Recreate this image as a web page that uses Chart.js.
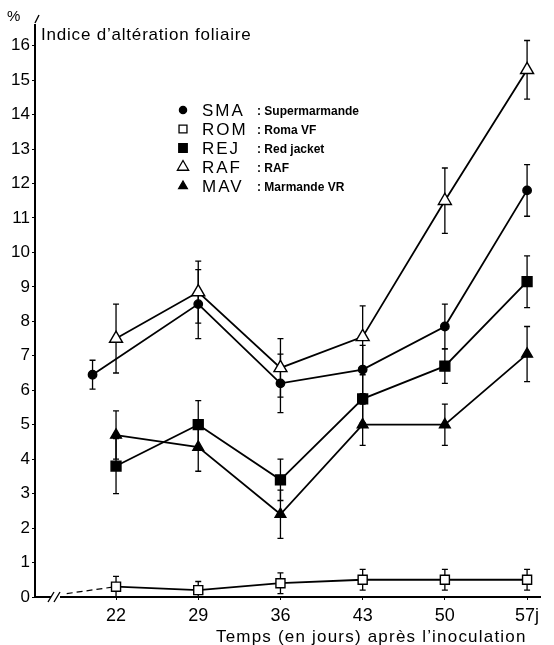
<!DOCTYPE html>
<html>
<head>
<meta charset="utf-8">
<script src="https://cdn.jsdelivr.net/npm/chart.js@4/dist/chart.umd.min.js"></script>
<style>
  html, body { margin: 0; padding: 0; background: #fff; }
</style>
</head>
<body>
<canvas id="myChart" width="554" height="645"></canvas>
<script>
// days after inoculation
const days = [22, 29, 36, 43, 50, 57];
const yTicks = [0, 1, 2, 3, 4, 5, 6, 7, 8, 9, 10, 11, 12, 13, 14, 15, 16];

const smaDays = [20, 29, 36, 43, 50, 57];
const smaValues = [6.45, 8.5, 6.2, 6.6, 7.85, 11.8];
const smaErr = [0.42, 1.0, 0.85, 0.7, 0.65, 0.75];

const romDays = [17.8, 22, 29, 36, 43, 50, 57];
const romValues = [0.1, 0.3, 0.2, 0.4, 0.5, 0.5, 0.5];
const romErr = [0, 0.3, 0.25, 0.3, 0.3, 0.3, 0.3];

const rejValues = [3.8, 5.0, 3.4, 5.75, 6.7, 9.15];
const rejErr = [0.8, 0.7, 0.6, 0.7, 0.5, 0.75];

const rafValues = [7.5, 8.85, 6.65, 7.55, 11.5, 15.3];
const rafErr = [1.0, 0.9, 0.85, 0.9, 0.95, 0.85];

const mavValues = [4.7, 4.35, 2.4, 5.0, 5.0, 7.05];
const mavErr = [0.7, 0.7, 0.7, 0.6, 0.6, 0.8];

const codes = ['SMA', 'ROM', 'REJ', 'RAF', 'MAV'];
const names = ['Supermarmande', 'Roma VF', 'Red jacket', 'RAF', 'Marmande VR'];

const yTitle = 'Indice d\u2019altération foliaire';
const xTitle = 'Temps (en jours) après l\u2019inoculation';

const toPoints = (xs, ys) => xs.map((x, i) => ({ x: x, y: ys[i] }));

const font = '"Liberation Sans", Arial, sans-serif';

const markers = [
  { style: 'circle', fill: '#000', radius: 4.2, legendRadius: 3.6 },
  { style: 'rect', fill: '#fff', radius: 6.4, legendRadius: 5.6 },
  { style: 'rect', fill: '#000', radius: 7, legendRadius: 6 },
  { style: 'triangle', fill: '#fff', radius: 7.5, legendRadius: 6.5 },
  { style: 'triangle', fill: '#000', radius: 6.2, legendRadius: 5 },
];

const makeSet = (i, data, err) => ({
  label: codes[i],
  data: data,
  err: err,
  borderColor: '#000',
  borderWidth: 1.8,
  backgroundColor: markers[i].fill,
  pointStyle: markers[i].style,
  pointRadius: markers[i].radius,
  pointBorderWidth: 1.4,
  pointBorderColor: '#000',
  pointBackgroundColor: markers[i].fill,
  tension: 0,
});

const romSet = makeSet(1, toPoints(romDays, romValues), romErr);
romSet.pointRadius = romValues.map((v, i) => (i === 0 ? 0 : markers[1].radius));
romSet.segment = {
  borderDash: (c) => (c.p0DataIndex === 0 ? [6, 4] : undefined),
  borderWidth: (c) => (c.p0DataIndex === 0 ? 1.2 : undefined),
};

// error bars drawn through the chart scales
const errorBars = {
  id: 'errorBars',
  beforeDatasetsDraw(chart) {
    const ctx = chart.ctx;
    const xs = chart.scales.x, ys = chart.scales.y;
    ctx.save();
    ctx.strokeStyle = '#000';
    ctx.lineWidth = 1.3;
    chart.data.datasets.forEach((ds) => {
      ds.data.forEach((p, i) => {
        const e = ds.err[i];
        if (!e) return;
        const x = xs.getPixelForValue(p.x);
        const y1 = ys.getPixelForValue(Math.max(0, p.y - e));
        const y2 = ys.getPixelForValue(p.y + e);
        ctx.beginPath();
        ctx.moveTo(x, y1); ctx.lineTo(x, y2);
        ctx.moveTo(x - 3, y1); ctx.lineTo(x + 3, y1);
        ctx.moveTo(x - 3, y2); ctx.lineTo(x + 3, y2);
        ctx.stroke();
      });
    });
    ctx.restore();
  },
};

// titles, legend and axis break
const decorations = {
  id: 'decorations',
  afterDraw(chart) {
    const ctx = chart.ctx;
    const area = chart.chartArea;
    ctx.save();
    ctx.fillStyle = '#000';
    ctx.strokeStyle = '#000';
    ctx.textBaseline = 'middle';

    ctx.font = '15px ' + font;
    ctx.fillText('%', 7, 17);
    ctx.font = '17px ' + font;
    ctx.letterSpacing = '0.8px';
    ctx.fillText(yTitle, 41, 35);
    ctx.letterSpacing = '1.2px';
    ctx.fillText(xTitle, 216, 637);
    ctx.letterSpacing = '0px';

    // y axis top arrow
    ctx.lineWidth = 1.4;
    ctx.beginPath();
    ctx.moveTo(area.left, area.top - 2);
    ctx.lineTo(area.left + 4, area.top - 10);
    ctx.stroke();

    // x axis break
    ctx.fillStyle = '#fff';
    ctx.fillRect(area.left + 16, area.bottom - 3, 9, 6);
    ctx.lineWidth = 1.4;
    ctx.beginPath();
    ctx.moveTo(area.left + 13, area.bottom + 5); ctx.lineTo(area.left + 19, area.bottom - 5);
    ctx.moveTo(area.left + 19, area.bottom + 5); ctx.lineTo(area.left + 25, area.bottom - 5);
    ctx.stroke();

    // legend
    const rowY = [110, 129, 148, 167, 186];
    codes.forEach((code, i) => {
      const m = markers[i];
      ctx.fillStyle = m.fill;
      ctx.strokeStyle = '#000';
      ctx.lineWidth = 1.3;
      Chart.helpers.drawPoint(ctx, { pointStyle: m.style, radius: m.legendRadius, borderWidth: 1.3, rotation: 0 }, 183, rowY[i]);
      ctx.fillStyle = '#000';
      ctx.font = '17px ' + font;
      ctx.letterSpacing = '2px';
      ctx.fillText(code, 202, rowY[i] + 1);
      ctx.letterSpacing = '0px';
      ctx.font = 'bold 12px ' + font;
      ctx.fillText(': ' + names[i], 257, rowY[i] + 2);
    });
    ctx.restore();
  },
};

new Chart(document.getElementById('myChart').getContext('2d'), {
  type: 'line',
  data: {
    datasets: [
      makeSet(0, toPoints(smaDays, smaValues), smaErr),
      romSet,
      makeSet(2, toPoints(days, rejValues), rejErr),
      makeSet(3, toPoints(days, rafValues), rafErr),
      makeSet(4, toPoints(days, mavValues), mavErr),
    ],
  },
  options: {
    responsive: false,
    animation: false,
    layout: { padding: { top: 25, right: 14, left: 0, bottom: 0 } },
    plugins: { legend: { display: false }, tooltip: { enabled: false } },
    scales: {
      x: {
        type: 'linear',
        min: 15.1,
        max: 58.1,
        afterFit: (s) => { s.height = 48; },
        afterBuildTicks: (s) => { s.ticks = days.map((v) => ({ value: v })); },
        grid: { display: true, drawOnChartArea: false, tickLength: 3, color: '#000' },
        border: { display: true, color: '#000', width: 2 },
        ticks: {
          color: '#000',
          font: { family: font, size: 18 },
          padding: 5,
          maxRotation: 0,
          callback: (v) => (v === 57 ? '57j' : String(v)),
        },
      },
      y: {
        type: 'linear',
        min: 0,
        max: 16.6,
        afterFit: (s) => { s.width = 35; },
        afterBuildTicks: (s) => { s.ticks = yTicks.map((v) => ({ value: v })); },
        grid: { display: true, drawOnChartArea: false, tickLength: 3, color: '#000' },
        border: { display: true, color: '#000', width: 2 },
        ticks: {
          color: '#000',
          font: { family: font, size: 17 },
          padding: 2,
        },
      },
    },
  },
  plugins: [errorBars, decorations],
});
</script>
</body>
</html>
